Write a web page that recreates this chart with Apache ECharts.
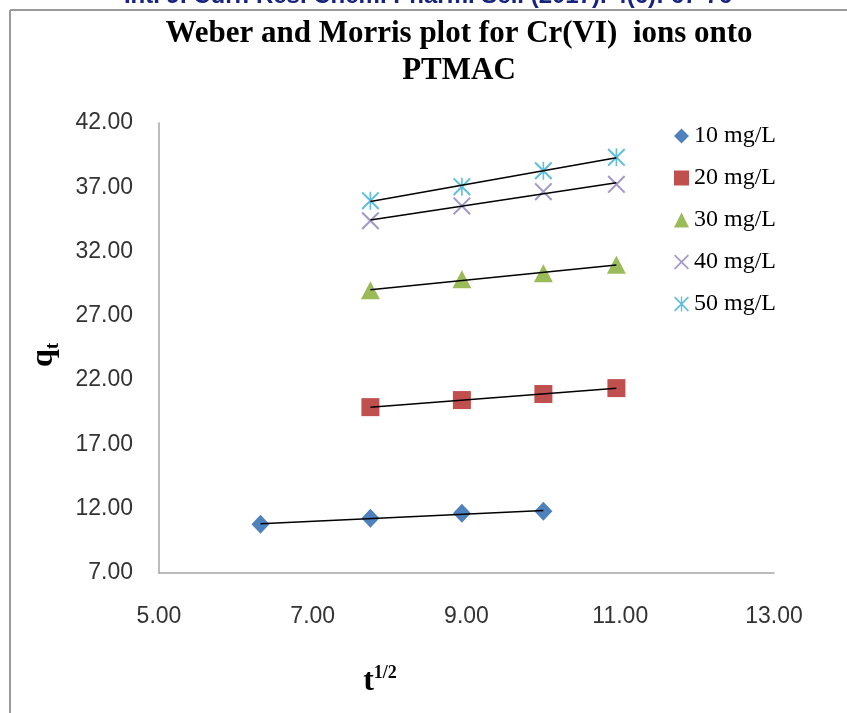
<!DOCTYPE html>
<html>
<head>
<meta charset="utf-8">
<title>Weber and Morris plot</title>
<script src="https://cdn.jsdelivr.net/npm/echarts@6/dist/echarts.min.js"></script>
<style>
  html, body { margin: 0; padding: 0; background: #fff; }
  #chart { width: 847px; height: 713px; }
</style>
</head>
<body>
<div id="chart"></div>
<script>
// square root of time (min^1/2)
const sqrtT10 = [6.32, 7.75, 8.94, 10.00];
const sqrtT = [7.75, 8.94, 10.00, 10.95];

// qt values per initial concentration
const q10 = [10.80, 11.25, 11.65, 11.80];
const q20 = [19.90, 20.45, 20.92, 21.38];
const q30 = [29.00, 29.84, 30.32, 30.97];
const q40 = [34.40, 35.55, 36.66, 37.23];
const q50 = [35.96, 37.05, 38.29, 39.33];

const seriesNames = ['10 mg/L', '20 mg/L', '30 mg/L', '40 mg/L', '50 mg/L'];
const xTicks = [5, 7, 9, 11, 13];
const yTicks = [7, 12, 17, 22, 27, 32, 37, 42];

const crossPath = 'path://M0,1.6L1.6,0L20,18.4L18.4,20Z M18.4,0L20,1.6L1.6,20L0,18.4Z';
const starPath = 'path://M0,1.6L1.6,0L20,18.4L18.4,20Z M18.4,0L20,1.6L1.6,20L0,18.4Z M9.1,0L10.9,0L10.9,20L9.1,20Z';

const groups = [
  { name: seriesNames[0], x: sqrtT10, y: q10, symbol: 'diamond', size: [18, 19], color: '#4f81bd' },
  { name: seriesNames[1], x: sqrtT, y: q20, symbol: 'rect', size: 18, color: '#c0504d' },
  { name: seriesNames[2], x: sqrtT, y: q30, symbol: 'triangle', size: [19, 18], color: '#9bbb59' },
  { name: seriesNames[3], x: sqrtT, y: q40, symbol: crossPath, size: 18, color: '#a498c6' },
  { name: seriesNames[4], x: sqrtT, y: q50, symbol: starPath, size: 18, color: '#5fbfdc' }
];

// least squares trendline, drawn between first and last point like Excel
function trend(xs, ys) {
  const n = xs.length;
  const mx = xs.reduce((a, b) => a + b, 0) / n;
  const my = ys.reduce((a, b) => a + b, 0) / n;
  let sxy = 0, sxx = 0;
  for (let i = 0; i < n; i++) {
    sxy += (xs[i] - mx) * (ys[i] - my);
    sxx += (xs[i] - mx) * (xs[i] - mx);
  }
  const b = sxy / sxx;
  const a = my - b * mx;
  const x0 = xs[0], x1 = xs[n - 1];
  return [[x0, a + b * x0], [x1, a + b * x1]];
}

const series = [];
groups.forEach(g => {
  series.push({
    name: g.name,
    type: 'scatter',
    symbol: g.symbol,
    symbolSize: g.size,
    itemStyle: { color: g.color, opacity: 1 },
    data: g.x.map((v, i) => [v, g.y[i]]),
    z: 2
  });
});
groups.forEach(g => {
  series.push({
    name: g.name + ' trend',
    type: 'line',
    data: trend(g.x, g.y),
    symbol: 'none',
    silent: true,
    lineStyle: { color: '#000', width: 1.5 },
    z: 3
  });
});

const chart = echarts.init(document.getElementById('chart'));
chart.setOption({
  animation: false,
  backgroundColor: '#fff',
  grid: { left: 159, right: 73, top: 123, bottom: 140 },
  legend: {
    data: seriesNames,
    orient: 'vertical',
    left: 669,
    top: 119,
    itemWidth: 15,
    itemHeight: 15,
    itemGap: 18,
    textStyle: { fontFamily: 'Liberation Serif', fontSize: 24, color: '#000' }
  },
  xAxis: {
    type: 'value',
    min: 5,
    max: 13,
    splitLine: { show: false },
    axisTick: { show: false },
    axisLine: { show: true, lineStyle: { color: '#a6a6a6', width: 1.5 } },
    axisLabel: {
      customValues: xTicks,
      formatter: v => v.toFixed(2),
      fontFamily: 'Liberation Sans',
      fontSize: 23,
      color: '#333',
      margin: 32
    }
  },
  yAxis: {
    type: 'value',
    min: 7,
    max: 42,
    splitLine: { show: false },
    axisTick: { show: false },
    axisLine: { show: true, lineStyle: { color: '#a6a6a6', width: 1.5 } },
    axisLabel: {
      customValues: yTicks,
      formatter: v => v.toFixed(2),
      fontFamily: 'Liberation Sans',
      fontSize: 23,
      color: '#333',
      margin: 26
    }
  },
  graphic: [
    {
      type: 'text', x: 428, y: -16, silent: true,
      style: {
        text: 'Int. J. Curr. Res. Chem. Pharm. Sci. (2017). 4(6): 67-76',
        align: 'center', verticalAlign: 'top',
        font: 'bold 24px "Liberation Sans"', fill: '#16237f'
      }
    },
    { type: 'line', silent: true, shape: { x1: 10, y1: 10, x2: 847, y2: 10 }, style: { stroke: '#9a9a9a', lineWidth: 2 } },
    { type: 'line', silent: true, shape: { x1: 10, y1: 10, x2: 10, y2: 713 }, style: { stroke: '#9a9a9a', lineWidth: 2 } },
    {
      type: 'text', x: 459, y: 15, silent: true,
      style: {
        text: 'Weber and Morris plot for Cr(VI)  ions onto\nPTMAC',
        align: 'center', verticalAlign: 'top', lineHeight: 37,
        font: 'bold 31px "Liberation Serif"', fill: '#000'
      }
    },
    {
      type: 'text', x: 44, y: 355, rotation: Math.PI / 2, silent: true,
      style: {
        text: '{q|q}{t|t}',
        align: 'center', verticalAlign: 'middle',
        rich: {
          q: { fontFamily: 'Liberation Serif', fontWeight: 'bold', fontSize: 32, lineHeight: 36, fill: '#000', verticalAlign: 'middle' },
          t: { fontFamily: 'Liberation Serif', fontWeight: 'bold', fontSize: 18, lineHeight: 36, fill: '#000', verticalAlign: 'bottom' }
        }
      }
    },
    {
      type: 'text', x: 380, y: 681, silent: true,
      style: {
        text: '{t|t}{s|1/2}',
        align: 'center', verticalAlign: 'middle',
        rich: {
          t: { fontFamily: 'Liberation Serif', fontWeight: 'bold', fontSize: 32, lineHeight: 34, fill: '#000', verticalAlign: 'bottom' },
          s: { fontFamily: 'Liberation Serif', fontWeight: 'bold', fontSize: 18, lineHeight: 34, fill: '#000', verticalAlign: 'top' }
        }
      }
    }
  ],
  series: series
});
</script>
</body>
</html>
